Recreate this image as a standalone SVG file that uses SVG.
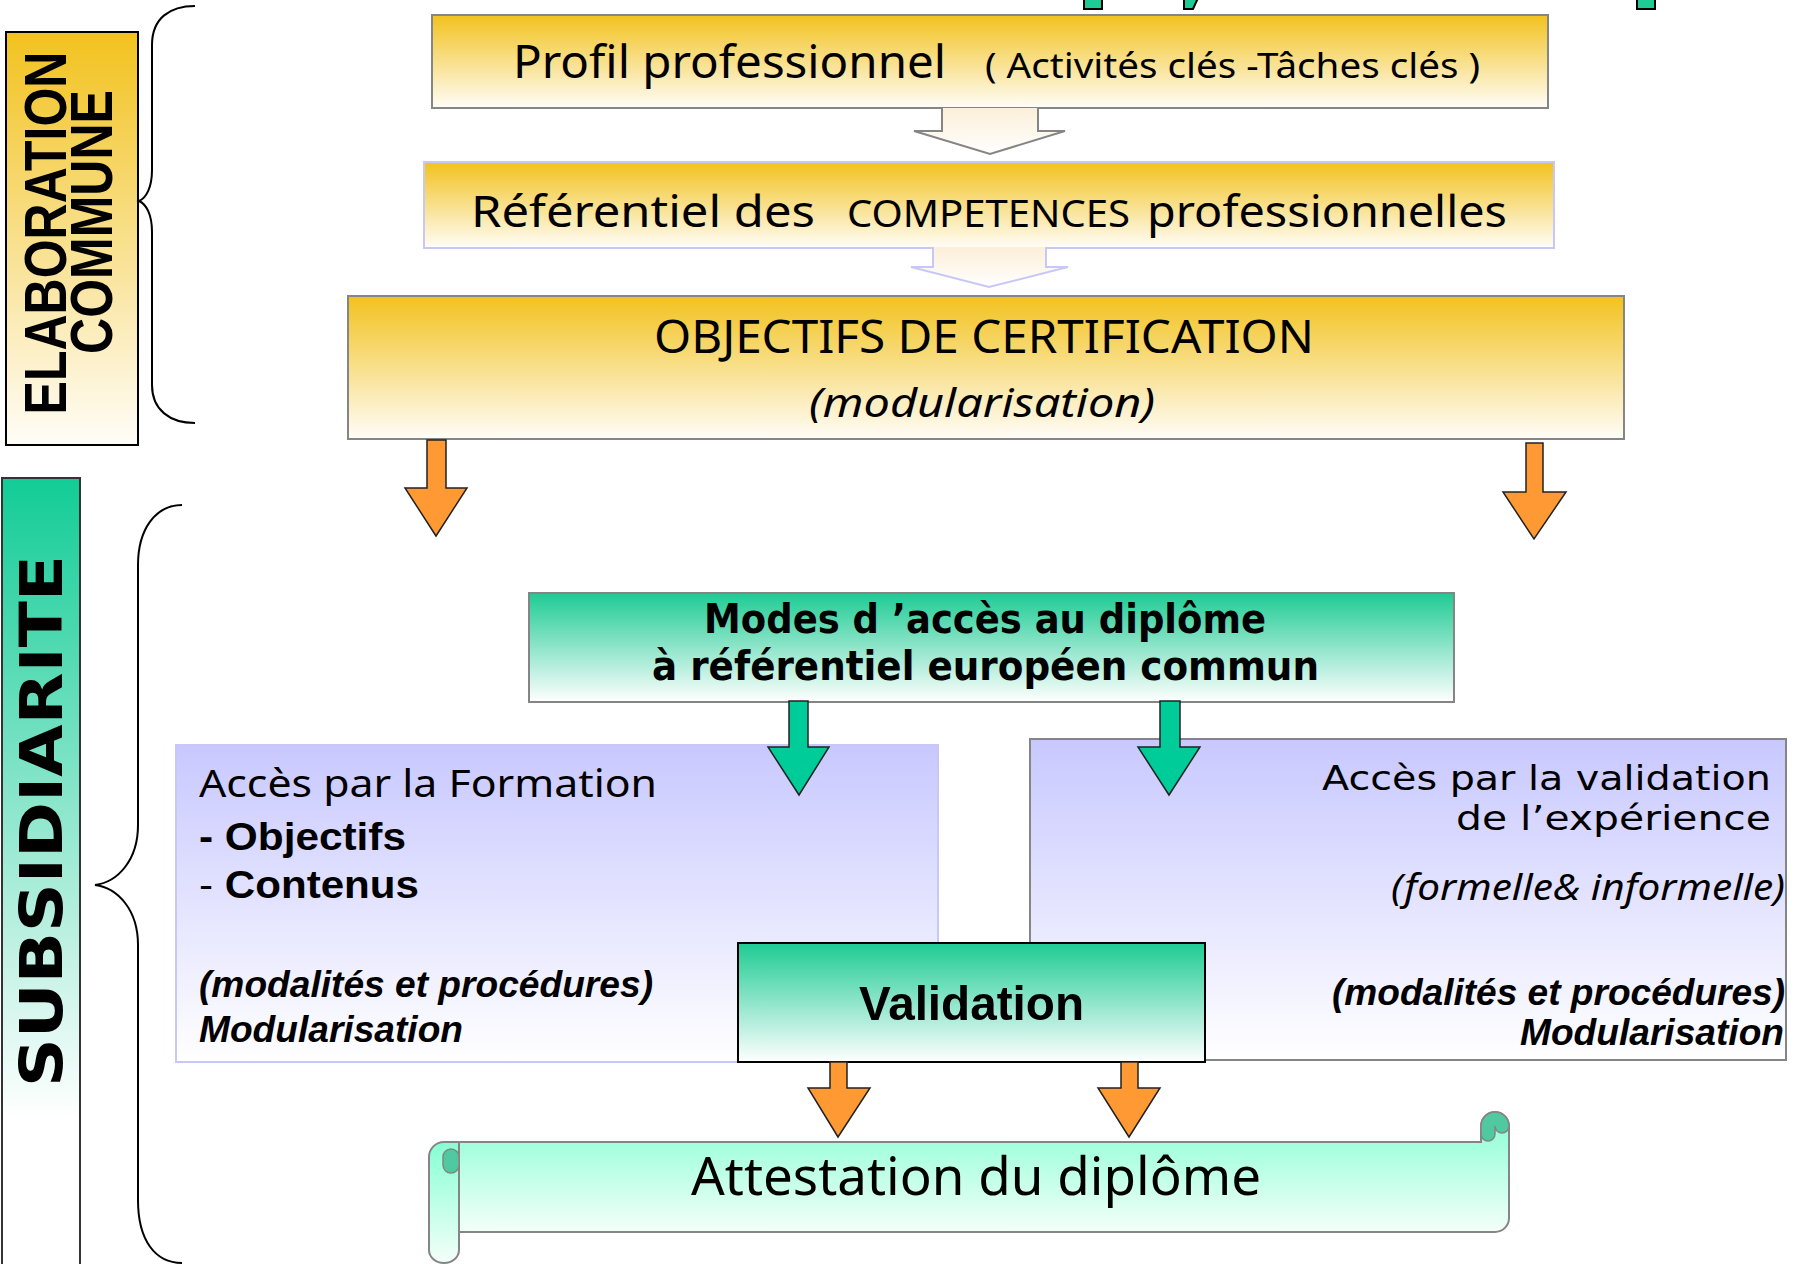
<svg xmlns="http://www.w3.org/2000/svg" width="1802" height="1264" viewBox="0 0 1802 1264">
<defs>
<linearGradient id="gold" x1="0" y1="0" x2="0" y2="1"><stop offset="0" stop-color="#F2C21E"/><stop offset="1" stop-color="#FFFDF8"/></linearGradient>
<linearGradient id="teal" x1="0" y1="0" x2="0" y2="1"><stop offset="0" stop-color="#1ECB94"/><stop offset="1" stop-color="#FFFFFF"/></linearGradient>
<linearGradient id="tealside" x1="0" y1="0" x2="0" y2="1"><stop offset="0" stop-color="#12CC96"/><stop offset="0.8" stop-color="#FFFFFF"/><stop offset="1" stop-color="#FFFFFF"/></linearGradient>
<linearGradient id="lav" x1="0" y1="0" x2="0" y2="1"><stop offset="0" stop-color="#C8C8FF"/><stop offset="1" stop-color="#FFFFFF"/></linearGradient>
<linearGradient id="mint" x1="0" y1="0" x2="0" y2="1"><stop offset="0" stop-color="#86FFD4"/><stop offset="1" stop-color="#F4FFFA"/></linearGradient>
<linearGradient id="cream" x1="0" y1="0" x2="0" y2="1"><stop offset="0" stop-color="#FBEFD8"/><stop offset="1" stop-color="#FFFFFF"/></linearGradient>
</defs>
<style>
.tah{font-family:"Noto Sans","DejaVu Sans",sans-serif;fill:#000}
.dv{font-family:"DejaVu Sans","Noto Sans",sans-serif;fill:#000}
.ari{font-family:"Liberation Sans",Arial,sans-serif;fill:#000}
.geo{font-family:"DejaVu Sans","Liberation Sans",sans-serif;font-weight:bold;fill:#000}
.geo2{font-family:"Liberation Sans",Arial,sans-serif;font-weight:bold;fill:#000}
.orange{fill:#FF9933;stroke:#222;stroke-width:1.5;stroke-linejoin:miter}
.tarrow{fill:#00CC99;stroke:#222;stroke-width:1.5}
.gray{stroke:#858585;stroke-width:2}
</style>

<g id="partial-top">
<path d="M1084,-2 V9 H1102 V-2 Z" fill="#1ECB94" stroke="#000" stroke-width="2"/>
<path d="M1184,-2 V9 H1193 L1198,-2 Z" fill="#1ECB94" stroke="#000" stroke-width="2"/>
<path d="M1637,-2 V9 H1655 V-2 Z" fill="#1ECB94" stroke="#000" stroke-width="2"/>
</g>

<g id="elaboration-commune">
<rect x="6" y="32" width="132" height="413" fill="url(#gold)" stroke="#000" stroke-width="2"/>
<text class="geo2" transform="translate(66,233) rotate(-90) scale(1,1.2)" text-anchor="middle" font-size="50">ELABORATION</text>
<text class="geo2" transform="translate(112,222) rotate(-90) scale(1,1.2)" text-anchor="middle" font-size="50">COMMUNE</text>
</g>

<g id="subsidiarite">
<rect x="2" y="478" width="78" height="800" fill="url(#tealside)" stroke="#333" stroke-width="2"/>
<text class="geo" transform="translate(62,821) rotate(-90)" text-anchor="middle" font-size="58" textLength="532" lengthAdjust="spacingAndGlyphs">SUBSIDIARITE</text>
</g>

<g id="braces" fill="none" stroke="#000" stroke-width="2">
<path d="M195,6 C170,6 152,18 152,45 L152,170 C152,188 146,198 139,201 C146,204 152,214 152,232 L152,385 C152,410 170,423 195,423"/>
<path d="M182,505 C155,505 138,530 138,565 L138,825 C138,860 118,882 95,885 C118,888 138,910 138,945 L138,1200 C138,1240 155,1263 182,1263"/>
</g>

<g id="profil">
<rect x="432" y="15" width="1116" height="93" fill="url(#gold)" class="gray"/>
<text class="tah" x="513" y="78" font-size="45" textLength="433" lengthAdjust="spacingAndGlyphs">Profil professionnel</text>
<text class="tah" x="985" y="78" font-size="35" textLength="495" lengthAdjust="spacingAndGlyphs">( Activités clés -Tâches clés )</text>
</g>

<g id="referentiel">
<rect x="424" y="162" width="1130" height="86" fill="url(#gold)" stroke="#C8C8F8" stroke-width="2"/>
<text class="tah" x="471" y="227" font-size="43" textLength="344" lengthAdjust="spacingAndGlyphs">Référentiel des</text>
<text class="tah" x="847" y="227" font-size="38" textLength="283" lengthAdjust="spacingAndGlyphs">COMPETENCES</text>
<text class="tah" x="1147" y="227" font-size="43" textLength="360" lengthAdjust="spacingAndGlyphs">professionnelles</text>
</g>

<g id="objectifs">
<rect x="348" y="296" width="1276" height="143" fill="url(#gold)" class="gray"/>
<text class="tah" x="654" y="353" font-size="46" textLength="660" lengthAdjust="spacingAndGlyphs">OBJECTIFS DE CERTIFICATION</text>
<text class="tah" x="809" y="417" font-size="40" font-style="italic" textLength="346" lengthAdjust="spacingAndGlyphs">(modularisation)</text>
</g>

<g id="formation">
<rect x="176" y="745" width="762" height="317" fill="url(#lav)" stroke="#C8C8F8" stroke-width="2"/>
<text class="tah" x="199" y="797" font-size="38" textLength="458" lengthAdjust="spacingAndGlyphs">Accès par la Formation</text>
<text class="ari" x="199" y="850" font-size="38" font-weight="bold" textLength="207" lengthAdjust="spacingAndGlyphs">- Objectifs</text>
<text class="ari" x="199" y="898" font-size="38" textLength="220" lengthAdjust="spacingAndGlyphs">- <tspan font-weight="bold">Contenus</tspan></text>
<text class="ari" x="199" y="997" font-size="36" font-weight="bold" font-style="italic" textLength="454" lengthAdjust="spacingAndGlyphs">(modalités et procédures)</text>
<text class="ari" x="199" y="1042" font-size="36" font-weight="bold" font-style="italic" textLength="264" lengthAdjust="spacingAndGlyphs">Modularisation</text>
</g>

<g id="vae">
<rect x="1030" y="739" width="756" height="321" fill="url(#lav)" class="gray"/>
<text class="dv" x="1322" y="790" font-size="34" textLength="449" lengthAdjust="spacingAndGlyphs">Accès par la validation</text>
<text class="dv" x="1456" y="830" font-size="34" textLength="315" lengthAdjust="spacingAndGlyphs">de l’expérience</text>
<text class="tah" x="1391" y="900" font-size="36" font-style="italic" textLength="394" lengthAdjust="spacingAndGlyphs">(formelle&amp; informelle)</text>
<text class="ari" x="1332" y="1005" font-size="36" font-weight="bold" font-style="italic" textLength="453" lengthAdjust="spacingAndGlyphs">(modalités et procédures)</text>
<text class="ari" x="1520" y="1045" font-size="36" font-weight="bold" font-style="italic" textLength="264" lengthAdjust="spacingAndGlyphs">Modularisation</text>
</g>

<g id="modes">
<rect x="529" y="593" width="925" height="109" fill="url(#teal)" class="gray"/>
<text class="dv" x="704" y="633" font-size="40" font-weight="bold" textLength="562" lengthAdjust="spacingAndGlyphs">Modes d ’accès au diplôme</text>
<text class="dv" x="652" y="680" font-size="40" font-weight="bold" textLength="667" lengthAdjust="spacingAndGlyphs">à référentiel européen commun</text>
</g>

<g id="validation">
<rect x="738" y="943" width="467" height="119" fill="url(#teal)" stroke="#000" stroke-width="2"/>
<text class="ari" x="859" y="1020" font-size="49" font-weight="bold" textLength="225" lengthAdjust="spacingAndGlyphs">Validation</text>
</g>

<g id="attestation">
<path d="M452,1142 H1481 V1126 A14,14 0 0 1 1509,1126 V1218 A14,14 0 0 1 1495,1232 H452 Z" fill="url(#mint)" class="gray"/>
<path d="M1481,1140 V1126 A14,14 0 0 1 1509,1126 A7,7 0 0 1 1495,1126 V1134 A7,7 0 0 1 1481,1134 Z" fill="#50C8A0" stroke="#858585" stroke-width="1.5"/>
<path d="M429,1157 A15,15 0 0 1 444,1142 H459 V1250 A15,13 0 0 1 429,1250 Z" fill="url(#mint)" class="gray"/>
<path d="M459,1157 A8,8 0 0 0 443,1157 V1165 A8,8 0 0 0 459,1165 Z" fill="#50C8A0" stroke="#858585" stroke-width="1.5"/>
<text class="tah" x="691" y="1195" font-size="53" textLength="570" lengthAdjust="spacingAndGlyphs">Attestation du diplôme</text>
</g>

<g id="connectors">
<path d="M942,108 V131 H914 L990,154 L1065,131 H1038 V108 Z" fill="url(#cream)" stroke="none"/>
<path d="M942,108 V131 H914 L990,154 L1065,131 H1038 V108" fill="none" class="gray"/>
<path d="M933,247 V267 H911 L989,287 L1068,267 H1046 V247 Z" fill="url(#cream)" stroke="none"/>
<path d="M933,247 V267 H911 L989,287 L1068,267 H1046 V247" fill="none" stroke="#C8C8F8" stroke-width="2"/>
<path class="orange" d="M427,440 H446 V488 H467 L436,536 L405,488 H427 Z"/>
<path class="orange" d="M1526,443 H1543 V492 H1566 L1534,539 L1503,492 H1526 Z"/>
<path class="tarrow" d="M789,701 H808 V747 H829 L799,795 L768,747 H789 Z"/>
<path class="tarrow" d="M1160,701 H1180 V747 H1200 L1169,795 L1138,747 H1160 Z"/>
<path class="orange" d="M830,1062 H847 V1088 H870 L838,1137 L808,1088 H830 Z"/>
<path class="orange" d="M1121,1062 H1138 V1088 H1160 L1129,1137 L1098,1088 H1121 Z"/>
</g>
</svg>
